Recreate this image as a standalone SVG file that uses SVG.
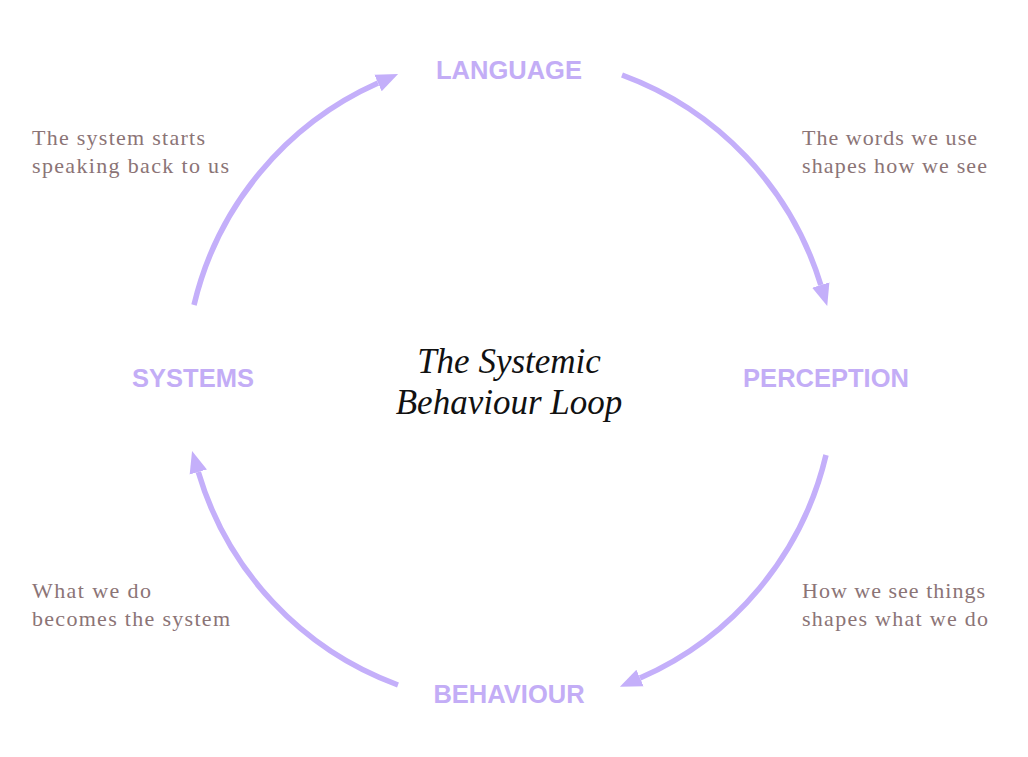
<svg xmlns="http://www.w3.org/2000/svg" width="1028" height="757" viewBox="0 0 1028 757">
<style>
.arc{fill:none;stroke:#c4affa;stroke-width:5.5;marker-end:url(#ah)}
.lbl{font-family:"Liberation Sans",Arial,sans-serif;font-weight:bold;font-size:25.5px;fill:#c3adf6;text-anchor:middle}
.cap{font-family:"Liberation Serif","Times New Roman",serif;font-size:22px;fill:#8b7476}
.title{font-family:"Liberation Serif","Times New Roman",serif;font-style:italic;font-size:35px;fill:#111;text-anchor:middle}
</style>
<defs>
<marker id="ah" markerUnits="userSpaceOnUse" markerWidth="24" markerHeight="20" refX="0" refY="9" orient="auto" viewBox="0 0 24 18">
<path d="M0,0 L22,9 L0,18 Z" fill="#c4affa"/>
</marker>
</defs>
<rect width="1028" height="757" fill="#fff"/>
<g id="connectors">
<path class="arc" d="M622,75 A325,325 0 0 1 820.8,285"/>
<path class="arc" d="M826,455 A325,325 0 0 1 640,678"/>
<path class="arc" d="M398,685 A325,325 0 0 1 198.3,472"/>
<path class="arc" d="M194,305 A325,325 0 0 1 378,83"/>
</g>
<g id="language"><text class="lbl" x="509" y="79">LANGUAGE</text></g>
<g id="perception"><text class="lbl" x="826" y="387">PERCEPTION</text></g>
<g id="behaviour"><text class="lbl" x="509" y="703">BEHAVIOUR</text></g>
<g id="systems"><text class="lbl" x="193" y="387">SYSTEMS</text></g>
<g id="title"><text class="title" x="509" y="373">The Systemic</text><text class="title" x="509" y="414">Behaviour Loop</text></g>
<g id="captions">
<text class="cap" x="32" y="145" textLength="173">The system starts</text><text class="cap" x="32" y="173" textLength="197">speaking back to us</text>
<text class="cap" x="802" y="145" textLength="175">The words we use</text><text class="cap" x="802" y="173" textLength="185">shapes how we see</text>
<text class="cap" x="32" y="598" textLength="119">What we do</text><text class="cap" x="32" y="626" textLength="198">becomes the system</text>
<text class="cap" x="802" y="598" textLength="183">How we see things</text><text class="cap" x="802" y="626" textLength="186">shapes what we do</text>
</g>
</svg>
